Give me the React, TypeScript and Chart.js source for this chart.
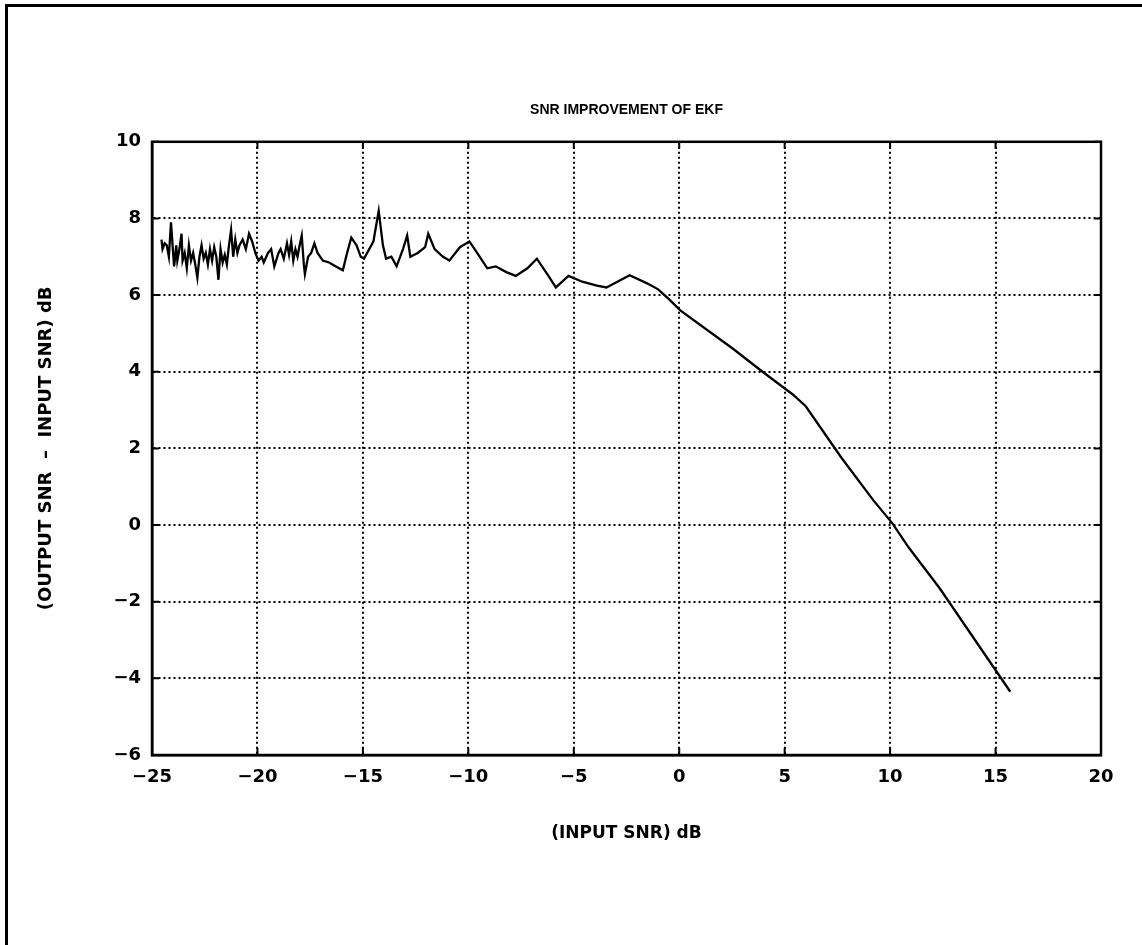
import React, { useEffect, useRef } from "react";
import { Chart, registerables } from "chart.js";

Chart.register(...registerables);

const TITLE = "SNR IMPROVEMENT OF EKF";
const X_LABEL = "(INPUT SNR) dB";
const Y_LABEL = "(OUTPUT SNR  –  INPUT SNR) dB";

const xValues: number[] = [
  -24.55, -24.5, -24.4, -24.3, -24.2, -24.1, -24.0, -23.95, -23.85, -23.8,
  -23.7, -23.6, -23.55, -23.45, -23.35, -23.25, -23.15, -23.05, -22.95, -22.85,
  -22.75, -22.65, -22.55, -22.45, -22.35, -22.25, -22.15, -22.05, -21.95, -21.85,
  -21.75, -21.65, -21.55, -21.45, -21.35, -21.25, -21.15, -21.05, -20.95, -20.85,
  -20.7, -20.55, -20.4, -20.25, -20.1, -19.95, -19.8, -19.7, -19.5, -19.35,
  -19.2, -19.0, -18.9, -18.75, -18.6, -18.5, -18.4, -18.3, -18.2, -18.1,
  -18.0, -17.9, -17.8, -17.75, -17.6, -17.45, -17.3, -17.15, -16.9, -16.6,
  -16.3, -15.95, -15.75, -15.55, -15.3, -15.1, -14.95, -14.7, -14.5, -14.25,
  -14.05, -13.9, -13.65, -13.4, -13.1, -12.9, -12.75, -12.4, -12.05, -11.9,
  -11.6, -11.2, -10.9, -10.4, -9.95, -9.7, -9.1, -8.7, -8.2, -7.75,
  -7.2, -6.75, -6.2, -5.85, -5.25, -4.6, -3.9, -3.45, -2.35, -1.5,
  -1.0, -0.5, 0.05, 2.55, 3.95, 5.4, 6.0, 7.7, 9.2, 10.1,
  10.9, 12.35, 15.7,
];

const yValues: number[] = [
  7.45, 7.2, 7.35, 7.3, 7.0, 7.9, 7.1, 6.75, 7.3, 6.9,
  7.2, 7.6, 6.9, 7.1, 6.7, 7.3, 6.9, 7.1, 6.8, 6.45,
  7.0, 7.3, 6.95, 7.1, 6.8, 7.2, 6.9, 7.25, 7.0, 6.4,
  7.2, 6.85, 7.05, 6.8, 7.3, 7.7, 7.0, 7.45, 7.1, 7.3,
  7.45, 7.2, 7.6, 7.4, 7.1, 6.9, 7.0, 6.85, 7.1, 7.2,
  6.75, 7.1, 7.2, 6.95, 7.35, 7.05, 7.4, 6.9, 7.2, 7.0,
  7.3, 7.55, 6.8, 6.55, 7.0, 7.1, 7.35, 7.1, 6.9, 6.85,
  6.75, 6.65, 7.1, 7.5, 7.3, 7.0, 6.95, 7.2, 7.4, 8.2,
  7.3, 6.95, 7.0, 6.75, 7.2, 7.55, 7.0, 7.1, 7.25, 7.6,
  7.2, 7.0, 6.9, 7.25, 7.4, 7.2, 6.7, 6.75, 6.6, 6.5,
  6.7, 6.95, 6.5, 6.2, 6.5, 6.35, 6.25, 6.2, 6.52, 6.3,
  6.15, 5.9, 5.6, 4.6, 4.0, 3.4, 3.1, 1.75, 0.65, 0.05,
  -0.6, -1.65, -4.35,
];

const X_MIN = -25;
const X_MAX = 20;
const X_STEP = 5;
const Y_MIN = -6;
const Y_MAX = 10;
const Y_STEP = 2;

const TICK_FONT = "'DejaVu Sans', sans-serif";
const LABEL_FONT = "'DejaVu Sans', sans-serif";
const TITLE_FONT = "'Liberation Sans', Arial, sans-serif";

const fmtTick = (v: any) => String(v).replace("-", "\u2212");

const frameTicksPlugin = {
  id: "frameTicks",
  afterDraw(chart: any) {
    const { ctx, chartArea } = chart;
    const { left, right, top, bottom } = chartArea;
    const xs = chart.scales.x;
    const ys = chart.scales.y;
    ctx.save();
    ctx.strokeStyle = "#000";
    ctx.lineWidth = 2.5;
    ctx.setLineDash([]);
    ctx.strokeRect(left, top, right - left, bottom - top);
    const tl = 7;
    ctx.lineWidth = 2;
    ctx.beginPath();
    xs.ticks.forEach((t: any) => {
      const px = xs.getPixelForValue(t.value);
      ctx.moveTo(px, bottom);
      ctx.lineTo(px, bottom - tl);
      ctx.moveTo(px, top);
      ctx.lineTo(px, top + tl);
    });
    ys.ticks.forEach((t: any) => {
      const py = ys.getPixelForValue(t.value);
      ctx.moveTo(left, py);
      ctx.lineTo(left + tl, py);
      ctx.moveTo(right, py);
      ctx.lineTo(right - tl, py);
    });
    ctx.stroke();
    ctx.restore();
  },
};

export default function App() {
  const canvasRef = useRef<HTMLCanvasElement | null>(null);

  useEffect(() => {
    const canvas = canvasRef.current;
    if (!canvas) return;
    const points = xValues.map((x, i) => ({ x, y: yValues[i] }));
    const chart = new Chart(canvas, {
      type: "line",
      data: {
        datasets: [
          {
            data: points,
            borderColor: "#000",
            borderWidth: 2.3,
            pointRadius: 0,
            tension: 0,
            fill: false,
          },
        ],
      },
      options: {
        animation: false,
        responsive: false,
        maintainAspectRatio: false,
        layout: { padding: { top: 0, right: 41, bottom: 0, left: 0 } },
        plugins: {
          legend: { display: false },
          tooltip: { enabled: false },
          title: {
            display: true,
            fullSize: false,
            text: TITLE,
            color: "#000",
            font: { family: TITLE_FONT, size: 14, weight: "bold", lineHeight: 1.2 },
            padding: { top: 102, bottom: 23 },
          },
        },
        scales: {
          x: {
            type: "linear",
            min: X_MIN,
            max: X_MAX,
            afterFit: (scale: any) => {
              scale.height = 190;
            },
            ticks: {
              stepSize: X_STEP,
              color: "#000",
              padding: 12,
              maxRotation: 0,
              callback: fmtTick,
              font: { family: TICK_FONT, size: 18, weight: "bold", lineHeight: 1.2 },
            },
            grid: { color: "#000", lineWidth: 2, drawTicks: false },
            border: { display: true, color: "#000", width: 2.5, dash: [2, 3] },
            title: {
              display: true,
              text: X_LABEL,
              color: "#000",
              font: { family: LABEL_FONT, size: 17, weight: "bold", lineHeight: 1.2 },
              padding: { top: 0, bottom: 101 },
            },
          },
          y: {
            type: "linear",
            min: Y_MIN,
            max: Y_MAX,
            afterFit: (scale: any) => {
              scale.width = 152;
            },
            ticks: {
              stepSize: Y_STEP,
              color: "#000",
              padding: 11,
              callback: fmtTick,
              font: { family: TICK_FONT, size: 18, weight: "bold", lineHeight: 1.2 },
            },
            grid: { color: "#000", lineWidth: 2, drawTicks: false },
            border: { display: true, color: "#000", width: 2.5, dash: [2, 3] },
            title: {
              display: true,
              text: Y_LABEL,
              color: "#000",
              font: { family: LABEL_FONT, size: 18, weight: "bold", lineHeight: 1.2 },
              padding: { top: 36, bottom: 0 },
            },
          },
        },
      },
      plugins: [frameTicksPlugin],
    });
    return () => chart.destroy();
  }, []);

  return (
    <div
      style={{
        position: "fixed",
        left: 0,
        top: 0,
        width: 1142,
        height: 945,
        background: "#fff",
        overflow: "hidden",
      }}
    >
      <div
        style={{
          position: "absolute",
          left: 5,
          top: 4,
          width: 1142,
          height: 945,
          borderTop: "3px solid #000",
          borderLeft: "3px solid #000",
          boxSizing: "border-box",
        }}
      />
      <canvas
        ref={canvasRef}
        width={1142}
        height={945}
        style={{ position: "absolute", left: 0, top: 0, width: 1142, height: 945 }}
      />
    </div>
  );
}
